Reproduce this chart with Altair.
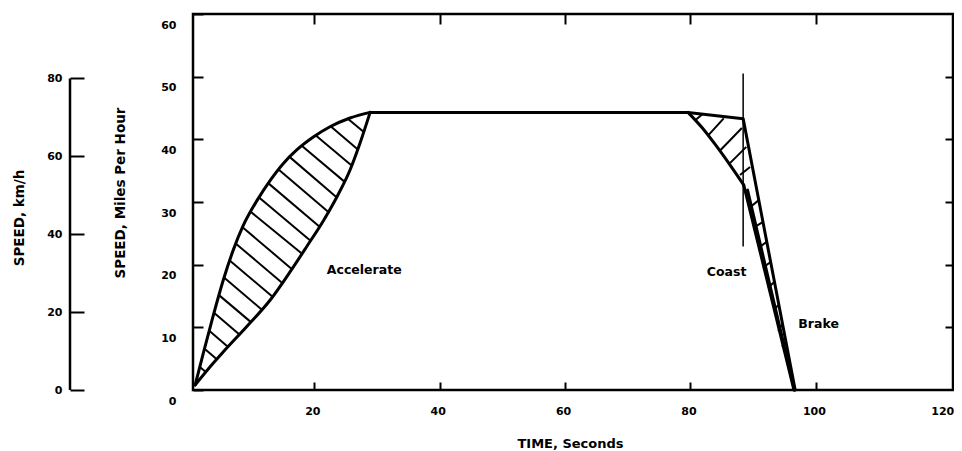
import altair as alt
import pandas as pd

FONT = "DejaVu Sans"

# ---------------- data (time in seconds, speed in mph) ----------------
# Accelerate: upper (fast) curve and lower (slow) curve of the envelope
acc_up_t = [1.0, 2.3, 3.7, 5.5, 7.1, 8.6, 10.9, 13.0, 15.1, 17.2, 19.9, 22.5, 25.7, 28.9]
acc_up_v = [0.8, 5.9, 11.2, 17.6, 22.4, 26.1, 30.3, 33.5, 36.2, 38.3, 40.4, 42.0, 43.4, 44.3]
acc_lo_t = [1.0, 3.9, 5.5, 9.2, 13.0, 16.1, 18.8, 21.5, 23.6, 25.7, 27.3, 28.9]
acc_lo_v = [0.8, 4.3, 6.1, 10.1, 14.4, 18.8, 22.9, 27.1, 30.8, 35.1, 39.4, 44.3]
# Cruise, coast (upper) and brake (outer line)
run_t = [28.9, 79.6, 88.4, 96.7]
run_v = [44.3, 44.3, 43.3, 0.0]
# Coast lower curve
coast_lo_t = [79.6, 81.9, 84.0, 86.1, 88.5]
coast_lo_v = [44.3, 41.8, 39.1, 36.2, 32.7]
# Brake inner (double) lines
brake_a_t = [88.5, 96.5]
brake_a_v = [32.7, 0.0]
brake_b_t = [89.1, 96.6]
brake_b_v = [31.9, 0.0]

# Hatching segments: start t, start v, end t, end v
hatch_t1 = [1.7, 2.5, 3.2, 4.0, 4.8, 5.6, 6.6, 7.6, 8.6, 9.9, 11.1, 12.6, 14.3, 16.1, 18.0, 20.2, 22.6, 25.4,
            80.8, 82.9, 84.8, 86.3, 87.9,
            89.3, 90.1, 90.9, 91.6, 92.4, 93.3, 94.0, 94.6]
hatch_v1 = [3.70, 6.57, 9.48, 12.33, 15.14, 17.94, 20.60, 23.26, 25.93, 28.40, 30.81, 33.05, 35.17, 37.16,
            38.98, 40.64, 42.08, 43.24,
            43.1, 40.7, 38.3, 36.2, 34.3,
            29.0, 25.9, 22.7, 19.5, 16.3, 12.6, 9.4, 6.9]
hatch_t2 = [2.7, 4.5, 6.3, 8.1, 9.9, 11.6, 13.3, 14.8, 16.3, 18.0, 19.4, 20.8, 22.2, 23.5, 24.8, 26.0, 26.9, 27.9,
            81.9, 85.3, 88.2, 88.9, 89.5,
            90.9, 91.5, 92.1, 92.7, 93.3, 94.0, 94.6, 95.1]
hatch_v2 = [2.87, 4.87, 6.81, 8.82, 10.83, 12.85, 14.92, 17.17, 19.40, 21.78, 23.81, 26.10, 28.43, 30.80,
            33.25, 35.77, 38.42, 41.17,
            44.0, 43.35, 41.8, 38.8, 35.6,
            30.3, 26.8, 23.6, 20.4, 17.2, 13.6, 10.4, 7.7]

# Coast marker (vertical line)
marker_t = [88.4]
marker_v0 = [22.9]
marker_v1 = [50.5]

# Annotations
label_text = ["Accelerate", "Coast", "Brake"]
label_t = [22.0, 82.6, 97.2]
label_v = [19.1, 18.9, 10.6]

# Axis tick values
x_ticks = [20, 40, 60, 80, 100, 120]
x_top_ticks = [20, 40, 60, 80, 100]
mph_ticks = [0, 10, 20, 30, 40, 50, 60]
mph_right_ticks = [10, 20, 30, 40, 50]
kmh_ticks = [0, 20, 40, 60, 80]
kmh_line = [0, 80]
X_DOMAIN = [0.654, 121.87]
MPH_DOMAIN = [0, 60]
KMH_DOMAIN = [0, 96.56]

# ---------------- tables ----------------
def table(series_list):
    rows = []
    for name, ts, vs in series_list:
        for i, (t, v) in enumerate(zip(ts, vs)):
            rows.append({"series": name, "i": i, "t": t, "v": v})
    return pd.DataFrame(rows)

curves_df = table([("acc_up", acc_up_t, acc_up_v), ("acc_lo", acc_lo_t, acc_lo_v),
                   ("coast_lo", coast_lo_t, coast_lo_v)])
straight_df = table([("run", run_t, run_v), ("brake_a", brake_a_t, brake_a_v),
                     ("brake_b", brake_b_t, brake_b_v)])
hatch_df = pd.DataFrame({"t1": hatch_t1, "v1": hatch_v1, "t2": hatch_t2, "v2": hatch_v2})
marker_df = pd.DataFrame({"t": marker_t, "v0": marker_v0, "v1": marker_v1})
label_df = pd.DataFrame({"label": label_text, "t": label_t, "v": label_v})
kmh_df = pd.DataFrame({"lo": [kmh_line[0]], "hi": [kmh_line[1]]})

xs = alt.Scale(domain=X_DOMAIN, nice=False, zero=False)
ys = alt.Scale(domain=MPH_DOMAIN, nice=False, zero=False)

common = dict(domain=False, grid=False, tickColor="black", tickWidth=2,
              labelFont=FONT, labelFontWeight="bold", labelFontSize=11, labelColor="black",
              titleFont=FONT, titleFontWeight="bold", titleColor="black")

bottom_axis = alt.Axis(
    orient="bottom", values=x_ticks, offset=-8, tickSize=8,
    tickOpacity={"condition": {"test": "datum.value == 120", "value": 0}, "value": 1},
    labelOffset={"condition": {"test": "datum.value == 120", "value": 1}, "value": -2},
    labelPadding=15, labelOverlap=False, labelFlush=False,
    title="TIME, Seconds", titleFontSize=13, titleX=377, titleY=61,
    titleBaseline="middle", titleAlign="center", **common)

left_axis = alt.Axis(
    orient="left", values=mph_ticks, offset=-10, tickSize=10,
    labelPadding=17, labelOffset=11, labelOverlap=False, labelFlush=False,
    title="SPEED, Miles Per Hour", titleFontSize=13.5, titleX=-83, titleY=178.5,
    titleAngle=270, titleBaseline="middle", titleAlign="center", **common)

top_axis = alt.Axis(orient="top", values=x_top_ticks, offset=-10, tickSize=10,
                    labels=False, title=None, **common)
right_axis = alt.Axis(orient="right", values=mph_right_ticks, offset=-8, tickSize=8,
                      labels=False, title=None, **common)

kmh_axis = alt.Axis(
    orient="left", values=kmh_ticks, offset=109, tickSize=14,
    labelPadding=8, labelOverlap=False, labelFlush=False,
    title="SPEED, km/h", titleFontSize=13.5, titleX=-65, titleY=203.5,
    titleAngle=270, titleBaseline="middle", titleAlign="center", **common)

straight = alt.Chart(straight_df).mark_line(
    color="black", strokeWidth=3, strokeJoin="round", strokeCap="round"
).encode(
    x=alt.X("t:Q", scale=xs, axis=bottom_axis),
    y=alt.Y("v:Q", scale=ys, axis=left_axis),
    detail="series:N",
    order="i:Q",
)

curves = alt.Chart(curves_df).mark_line(
    color="black", strokeWidth=3, strokeCap="round", interpolate="monotone"
).encode(
    x=alt.X("t:Q", scale=xs, axis=None),
    y=alt.Y("v:Q", scale=ys, axis=None),
    detail="series:N",
    order="i:Q",
)

hatch = alt.Chart(hatch_df).mark_rule(color="black", strokeWidth=2).encode(
    x=alt.X("t1:Q", scale=xs, axis=top_axis),
    y=alt.Y("v1:Q", scale=ys, axis=right_axis),
    x2="t2:Q",
    y2="v2:Q",
)

marker = alt.Chart(marker_df).mark_rule(color="black", strokeWidth=1.5).encode(
    x=alt.X("t:Q", scale=xs, axis=None),
    y=alt.Y("v0:Q", scale=ys, axis=None),
    y2="v1:Q",
)

labels = alt.Chart(label_df).mark_text(
    align="left", baseline="middle", font=FONT, fontWeight="bold", fontSize=12.5, color="black"
).encode(
    x=alt.X("t:Q", scale=xs, axis=None),
    y=alt.Y("v:Q", scale=ys, axis=None),
    text="label:N",
)

kmh = alt.Chart(kmh_df).mark_rule(color="black", strokeWidth=2.5).encode(
    x=alt.value(-123),
    y=alt.Y("lo:Q", scale=alt.Scale(domain=KMH_DOMAIN, nice=False, zero=False), axis=kmh_axis),
    y2="hi:Q",
)

chart = alt.layer(straight, curves, hatch, marker, labels, kmh).resolve_scale(
    y="independent"
).resolve_axis(
    x="independent", y="independent"
).properties(
    width=760, height=376,
    autosize=alt.AutoSizeParams(type="none"),
    padding={"left": 185, "top": 6, "right": 1, "bottom": 60},
    background="white",
).configure_view(stroke="black", strokeWidth=2.5)

chart.save("out.html", embed_options={"renderer": "svg", "actions": False})
